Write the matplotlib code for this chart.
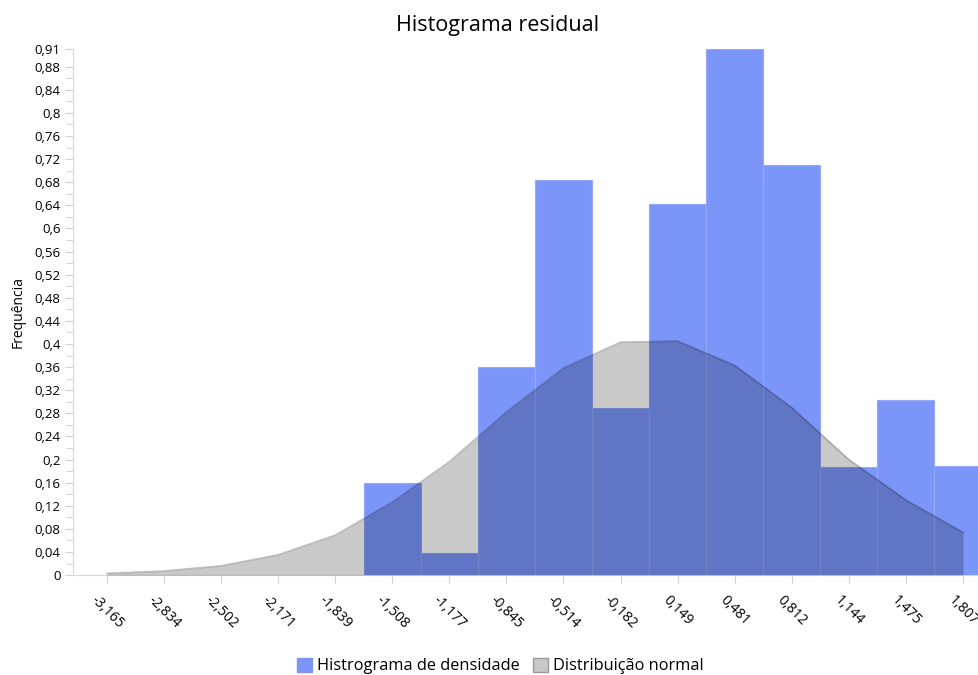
import matplotlib.pyplot as plt
from matplotlib.patches import Patch
from matplotlib.ticker import FixedLocator

# bin centres (also the x tick values)
bin_centers = [-3.165, -2.834, -2.502, -2.171, -1.839, -1.508, -1.177, -0.845,
               -0.514, -0.182, 0.149, 0.481, 0.812, 1.144, 1.475, 1.807]
# density histogram heights (0 where no bar)
hist_density = [0, 0, 0, 0, 0, 0.159, 0.038, 0.36, 0.683, 0.289,
                0.642, 0.91, 0.709, 0.187, 0.303, 0.189]
# normal distribution evaluated at the bin centres
normal_density = [0.003, 0.007, 0.016, 0.035, 0.069, 0.126, 0.196, 0.282,
                  0.358, 0.403, 0.405, 0.363, 0.29, 0.2, 0.13, 0.074]
y_ticks = [0, 0.04, 0.08, 0.12, 0.16, 0.2, 0.24, 0.28, 0.32, 0.36, 0.4, 0.44,
           0.48, 0.52, 0.56, 0.6, 0.64, 0.68, 0.72, 0.76, 0.8, 0.84, 0.88, 0.91]

bin_width = 0.3315
bar_color = '#7b95f9'

plt.rcParams['font.family'] = ['Open Sans', 'DejaVu Sans']

fig = plt.figure(figsize=(9.79, 6.75), dpi=100)
ax = fig.add_axes([0.0746, 0.148, 0.9254, 0.779])

ax.bar(bin_centers, hist_density, width=bin_width, color=bar_color,
       edgecolor='#93a8fb', linewidth=0.8, zorder=2)
ax.fill_between(bin_centers, normal_density, 0, color='black', alpha=0.21,
                linewidth=0, zorder=3)
ax.plot(bin_centers, normal_density, color='black', alpha=0.25, linewidth=1.2, zorder=4)

ax.set_xlim(-3.362, 1.90)
ax.set_ylim(0, 0.91)

ax.set_xticks(bin_centers)
ax.set_xticklabels([('%.3f' % v).replace('.', ',') for v in bin_centers],
                   rotation=-45, ha='center', va='top', fontsize=10)
ax.yaxis.set_major_locator(FixedLocator(y_ticks))
ax.set_yticklabels([('%g' % v).replace('.', ',') for v in y_ticks], fontsize=9.5)
ax.yaxis.set_minor_locator(FixedLocator([v + 0.02 for v in y_ticks[:-2]]))

for side in ['top', 'right']:
    ax.spines[side].set_visible(False)
for side in ['left', 'bottom']:
    ax.spines[side].set_color('#d8d8d8')
ax.tick_params(axis='both', which='major', length=6, color='#d0d0d0', pad=3)
ax.tick_params(axis='y', which='minor', length=5, color='#d0d0d0')
ax.tick_params(axis='x', pad=7)

ax.set_ylabel('Frequência', fontsize=10, labelpad=6)
fig.text(0.508, 0.962, 'Histograma residual', ha='center', va='center', fontsize=15.5)

handles = [Patch(facecolor=bar_color, edgecolor=bar_color),
           Patch(facecolor='#c8c8c8', edgecolor='#9a9a9a')]
fig.legend(handles, ['Histrograma de densidade', 'Distribuição normal'],
           loc='center', bbox_to_anchor=(0.511, 0.013), ncol=2, frameon=False,
           fontsize=11.8, handlelength=0.9, handleheight=0.9, handletextpad=0.3,
           columnspacing=0.8)

fig.savefig('out.png', dpi=100)
